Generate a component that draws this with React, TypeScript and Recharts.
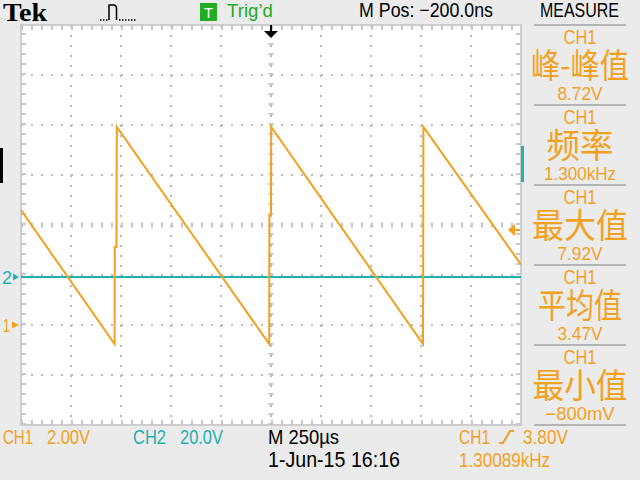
import React from 'react';
import {
  LineChart,
  Line,
  XAxis,
  YAxis,
  CartesianGrid,
  ReferenceLine,
  ReferenceDot,
  ReferenceArea,
} from 'recharts';

// ---------- data ----------
const timeTicks = [-1250, -1000, -750, -500, -250, 0, 250, 500, 750, 1000, 1250]; // µs, 250 µs/div
const ch1Ticks = [-4, -2, 0, 2, 4, 6, 8, 10, 12]; // V, 2 V/div
const ch2Ticks = [-59.2, -39.2, -19.2, 0.8, 20.8, 40.8, 60.8, 80.8, 100.8]; // V, 20 V/div

const ch1Times = [-1250, -782, -781, -773, -771, -9, -8, 0, 1, 760, 762, 1250];
const ch1Values = [4.6, -0.76, 3.12, 3.12, 7.92, -0.76, 4.4, 4.4, 7.92, -0.76, 7.92, 2.42];

const ch2Times = [-1250, 1250];
const ch2Values = [0, 0];

const measureChannels = ['CH1', 'CH1', 'CH1', 'CH1', 'CH1'];
const measureLabels = ['峰-峰值', '频率', '最大值', '平均值', '最小值'];
const measureValues = ['8.72V', '1.300kHz', '7.92V', '3.47V', '−800mV'];

const triggerLevel = 3.8; // V on CH1
const ch1Data = ch1Times.map((t, i) => ({ t, v: ch1Values[i] }));
const ch2Data = ch2Times.map((t, i) => ({ t, v: ch2Values[i] }));

// ---------- styles ----------
const ORANGE = '#f2a11f';
const TEAL = '#1fb1b3';
const GREEN = '#22ac22';
const BG = '#ebebeb';
const SANS = '"Liberation Sans", Arial, sans-serif';
const SERIF = '"Liberation Serif", "Times New Roman", serif';
const CJK = '"Noto Sans CJK SC", sans-serif';

const labelWidths = [98, 67, 96, 84, 95];
const valueWidths = [45, 72, 45, 45, 69];

type TP = {
  x: number;
  y: number;
  w: number;
  size: number;
  color: string;
  anchor?: 'start' | 'middle' | 'end';
  family?: string;
  weight?: string | number;
  children: React.ReactNode;
};

function T({ x, y, w, size, color, anchor = 'start', family = SANS, weight = 'normal', children }: TP) {
  return (
    <text
      x={x}
      y={y}
      fontSize={size}
      fill={color}
      fontFamily={family}
      fontWeight={weight}
      textAnchor={anchor}
      textLength={w}
      lengthAdjust="spacingAndGlyphs"
    >
      {children}
    </text>
  );
}

const ch1Marker = (p: any) => {
  const { cx, cy } = p;
  return (
    <g>
      <T x={cx - 18} y={cy + 7} w={7} size={19} color={ORANGE}>1</T>
      <path d={`M${cx - 9},${cy - 3.5} L${cx - 2},${cy} L${cx - 9},${cy + 3.5} Z`} fill={ORANGE} />
    </g>
  );
};

const ch2Marker = (p: any) => {
  const { cx, cy } = p;
  return (
    <g>
      <T x={cx - 19} y={cy + 7} w={10} size={19} color={TEAL}>2</T>
      <path d={`M${cx - 8},${cy - 3.5} L${cx - 2},${cy} L${cx - 8},${cy + 3.5} Z`} fill={TEAL} />
    </g>
  );
};

const trigLevelMarker = (p: any) => {
  const { cx, cy } = p;
  return (
    <g>
      <path d={`M${cx - 13},${cy} L${cx - 6},${cy - 6} L${cx - 6},${cy + 6} Z`} fill={ORANGE} />
      <line x1={cx - 7} y1={cy} x2={cx - 1} y2={cy} stroke={ORANGE} strokeWidth={2} />
    </g>
  );
};

const trigPosMarker = (p: any) => {
  const { cx, cy } = p;
  return (
    <g>
      <line x1={cx} y1={cy} x2={cx} y2={cy + 8} stroke="#000" strokeWidth={2} />
      <path d={`M${cx - 7},${cy + 6} H${cx + 7} L${cx},${cy + 13} Z`} fill="#000" />
    </g>
  );
};

export default function App() {
  return (
    <div
      style={{
        position: 'absolute',
        left: 0,
        top: 0,
        width: 640,
        height: 480,
        background: BG,
        overflow: 'hidden',
      }}
    >
      <div style={{ position: 'absolute', left: 0, top: 0 }}>
        <LineChart width={640} height={480} margin={{ top: 25, right: 119, bottom: 55, left: 21 }}>
          <XAxis xAxisId="t" type="number" dataKey="t" domain={[-1250, 1250]} ticks={timeTicks} hide allowDataOverflow />
          <YAxis yAxisId="ch1" type="number" domain={[-4, 12]} ticks={ch1Ticks} hide allowDataOverflow />
          <YAxis yAxisId="ch2" type="number" domain={[-59.2, 100.8]} ticks={ch2Ticks} hide allowDataOverflow />
          <CartesianGrid
            xAxisId="t"
            yAxisId="ch1"
            fill="#ffffff"
            fillOpacity={1}
            stroke="#b9b9b9"
            strokeWidth={2}
            strokeDasharray="2 8"
          />
          {/* centre crosshair with minor ticks */}
          <ReferenceLine xAxisId="t" yAxisId="ch1" y={4} stroke="#c6c6c6" strokeWidth={5} strokeDasharray="2 8" />
          <ReferenceLine xAxisId="t" yAxisId="ch1" x={0} stroke="#c6c6c6" strokeWidth={5} strokeDasharray="2 8" />
          {/* minor ticks along the frame */}
          <ReferenceLine xAxisId="t" yAxisId="ch1" y={11.9} stroke="#c6c6c6" strokeWidth={5} strokeDasharray="2 8" />
          <ReferenceLine xAxisId="t" yAxisId="ch1" y={-3.9} stroke="#c6c6c6" strokeWidth={5} strokeDasharray="2 8" />
          <ReferenceLine xAxisId="t" yAxisId="ch1" x={-1237.5} stroke="#c6c6c6" strokeWidth={5} strokeDasharray="2 8" />
          <ReferenceLine xAxisId="t" yAxisId="ch1" x={1237.5} stroke="#c6c6c6" strokeWidth={5} strokeDasharray="2 8" />
          <ReferenceArea
            xAxisId="t"
            yAxisId="ch1"
            x1={-1250}
            x2={1250}
            y1={-4}
            y2={12}
            fill="none"
            stroke="#cdcdcd"
            strokeWidth={2}
            ifOverflow="visible"
          />
          <Line
            xAxisId="t"
            yAxisId="ch2"
            data={ch2Data}
            dataKey="v"
            type="linear"
            stroke={TEAL}
            strokeWidth={2}
            dot={false}
            isAnimationActive={false}
          />
          <Line
            xAxisId="t"
            yAxisId="ch1"
            data={ch1Data}
            dataKey="v"
            type="linear"
            stroke={ORANGE}
            strokeWidth={2}
            dot={false}
            isAnimationActive={false}
          />
          <ReferenceDot xAxisId="t" yAxisId="ch1" x={-1250} y={0} r={0} shape={ch1Marker} ifOverflow="visible" />
          <ReferenceDot xAxisId="t" yAxisId="ch2" x={-1250} y={0} r={0} shape={ch2Marker} ifOverflow="visible" />
          <ReferenceDot xAxisId="t" yAxisId="ch1" x={1250} y={triggerLevel} r={0} shape={trigLevelMarker} ifOverflow="visible" />
          <ReferenceDot xAxisId="t" yAxisId="ch1" x={0} y={12} r={0} shape={trigPosMarker} ifOverflow="visible" />
        </LineChart>
      </div>

      <svg
        width={640}
        height={480}
        style={{ position: 'absolute', left: 0, top: 0, pointerEvents: 'none' }}
      >
        {/* side indicators */}
        <rect x={0} y={148} width={3} height={35} fill="#000" />
        <rect x={521} y={146} width={3} height={36} fill={TEAL} />

        {/* top bar */}
        <T x={3} y={20.5} w={44} size={26} color="#000" family={SERIF} weight="bold">Tek</T>
        <line x1={100} y1={20} x2={108} y2={20} stroke="#000" strokeWidth={1.5} strokeDasharray="1.5 1.5" />
        <path d="M109,20 V5 H114 Q116,5 116.5,8 V20" fill="none" stroke="#000" strokeWidth={1.5} />
        <line x1={119} y1={20} x2={136} y2={20} stroke="#000" strokeWidth={1.5} strokeDasharray="1.5 1.5" />
        <rect x={200} y={3} width={17} height={18} fill={GREEN} />
        <T x={208.5} y={18} w={9} size={15} color="#fff" anchor="middle">T</T>
        <T x={227} y={17} w={46} size={19} color={GREEN}>Trig’d</T>
        <T x={359} y={17.3} w={134} size={20} color="#000">M Pos: −200.0ns</T>
        <T x={540} y={17.3} w={79} size={20} color="#000">MEASURE</T>

        {/* measure panel */}
        {[0, 1, 2, 3, 4, 5].map((i) => (
          <line key={`sep${i}`} x1={534} x2={626} y1={25 + 80 * i} y2={25 + 80 * i} stroke="#b5b5b5" strokeWidth={2} />
        ))}
        {measureLabels.map((lab, i) => {
          const s = 25 + 80 * i;
          return (
            <g key={`m${i}`}>
              <T x={580} y={s + 18.5} w={33} size={21} color={ORANGE} anchor="middle">{measureChannels[i]}</T>
              <T x={580} y={s + 53} w={labelWidths[i]} size={34} color={ORANGE} anchor="middle" family={CJK}>{lab}</T>
              <T x={580} y={s + 74.5} w={valueWidths[i]} size={18} color={ORANGE} anchor="middle">{measureValues[i]}</T>
            </g>
          );
        })}

        {/* bottom bar */}
        <T x={3} y={444} w={30} size={21} color={ORANGE}>CH1</T>
        <T x={47} y={444} w={43} size={21} color={ORANGE}>2.00V</T>
        <T x={133} y={444} w={33} size={21} color={TEAL}>CH2</T>
        <T x={180} y={444} w={43} size={21} color={TEAL}>20.0V</T>
        <T x={268} y={444} w={71} size={21} color="#000">M 250µs</T>
        <T x={268} y={467} w={132} size={22} color="#000">1-Jun-15 16:16</T>
        <T x={459} y={444} w={31} size={21} color={ORANGE}>CH1</T>
        <path d="M499,443 H503 L510,431 H514" fill="none" stroke={ORANGE} strokeWidth={2} />
        <T x={523} y={444} w={45} size={21} color={ORANGE}>3.80V</T>
        <T x={459} y={467} w={91} size={20} color={ORANGE}>1.30089kHz</T>
      </svg>
    </div>
  );
}
